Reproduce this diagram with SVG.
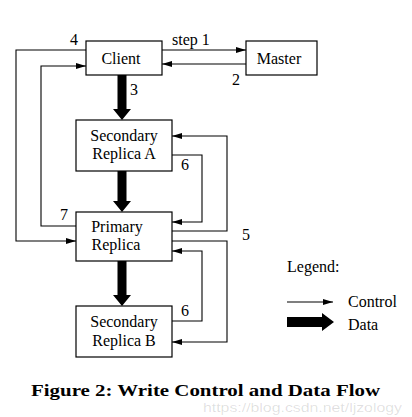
<svg xmlns="http://www.w3.org/2000/svg" width="412" height="417" viewBox="0 0 412 417">
<style>
.box{fill:#fff;stroke:#000;stroke-width:1.2}
.t{font-family:"Liberation Serif",serif;font-size:16px;fill:#000}
.c{fill:none;stroke:#000;stroke-width:1.1}
</style>
<defs>
<marker id="ah" viewBox="0 0 10 6" refX="10" refY="3" markerWidth="10" markerHeight="6" markerUnits="userSpaceOnUse" orient="auto">
<path d="M0,0 L10,3 L0,6 Z" fill="#000"/>
</marker>
</defs>
<rect width="412" height="417" fill="#fff"/>
<g id="connectors">
<path class="c" d="M162,50 H246" marker-end="url(#ah)"/>
<path class="c" d="M246,64 H162" marker-end="url(#ah)"/>
<path class="c" d="M86,50 H16 V241 H76" marker-end="url(#ah)"/>
<path class="c" d="M76,226 H41 V66 H86" marker-end="url(#ah)"/>
<path class="c" d="M172,231 H227 V136 H172" marker-end="url(#ah)"/>
<path class="c" d="M172,155 H202 V222 H172" marker-end="url(#ah)"/>
<path class="c" d="M172,241 H227 V342 H172" marker-end="url(#ah)"/>
<path class="c" d="M172,321 H202 V251 H172" marker-end="url(#ah)"/>
<path d="M117.5,75 H126.5 V109 H131 L122,120 L113,109 H117.5 Z" fill="#000"/>
<path d="M117.5,171 H126.5 V201 H131 L122,212 L113,201 H117.5 Z" fill="#000"/>
<path d="M117.5,261 H126.5 V295 H131 L122,306 L113,295 H117.5 Z" fill="#000"/>
</g>
<g id="labels">
<text class="t" x="172" y="45">step 1</text>
<text class="t" x="232" y="85">2</text>
<text class="t" x="130" y="95">3</text>
<text class="t" x="70" y="45">4</text>
<text class="t" x="242" y="240">5</text>
<text class="t" x="181" y="170">6</text>
<text class="t" x="181" y="316">6</text>
<text class="t" x="60" y="220">7</text>
</g>
<g id="client">
<rect class="box" x="86" y="41" width="76" height="34"/>
<text class="t" x="121" y="64" text-anchor="middle">Client</text>
</g>
<g id="master">
<rect class="box" x="246" y="41" width="71" height="34"/>
<text class="t" x="279" y="64" text-anchor="middle">Master</text>
</g>
<g id="secondaryA">
<rect class="box" x="76" y="120" width="96" height="51"/>
<text class="t" x="124" y="141" text-anchor="middle">Secondary</text>
<text class="t" x="124" y="159" text-anchor="middle">Replica A</text>
</g>
<g id="primary">
<rect class="box" x="76" y="212" width="96" height="49"/>
<text class="t" x="117" y="232" text-anchor="middle">Primary</text>
<text class="t" x="116" y="250" text-anchor="middle">Replica</text>
</g>
<g id="secondaryB">
<rect class="box" x="76" y="306" width="96" height="51"/>
<text class="t" x="124" y="327" text-anchor="middle">Secondary</text>
<text class="t" x="124" y="346" text-anchor="middle">Replica B</text>
</g>
<g id="legend">
<text class="t" x="287" y="272">Legend:</text>
<path class="c" d="M287,302 H333" marker-end="url(#ah)"/>
<text class="t" x="348" y="307">Control</text>
<path d="M287,317 H322 V313 L334,322 L322,331 V327 H287 Z" fill="#000"/>
<text class="t" x="348" y="330">Data</text>
</g>
<g id="caption">
<text x="31" y="396" font-family="'Liberation Serif',serif" font-weight="bold" font-size="16" textLength="349" lengthAdjust="spacingAndGlyphs" fill="#000">Figure 2: Write Control and Data Flow</text>
<text x="203" y="412" font-family="'Liberation Sans',sans-serif" font-size="13" textLength="199" lengthAdjust="spacingAndGlyphs" fill="#000" fill-opacity="0.13">https://blog.csdn.net/ljzology</text>
</g>
</svg>
